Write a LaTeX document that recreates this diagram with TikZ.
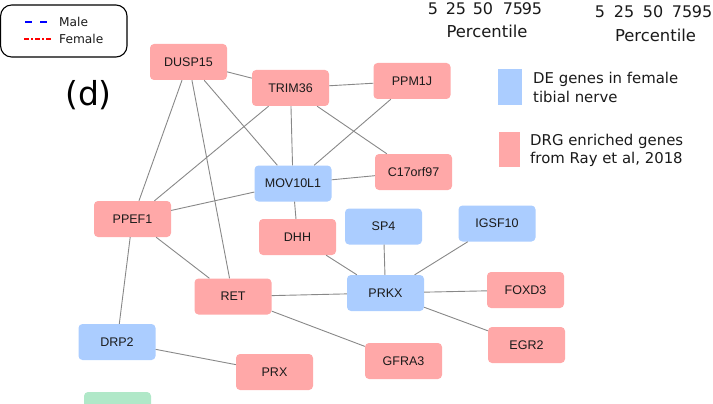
\documentclass[tikz,border=0pt]{standalone}
\usepackage{fontspec}
\setmainfont{DejaVu Sans}
\newfontfamily\genefont{Liberation Sans}
\definecolor{drgpink}{HTML}{FFA8A8}
\definecolor{deblue}{HTML}{ABCDFF}
\definecolor{othgreen}{HTML}{B0E8C8}
\definecolor{edgegray}{HTML}{888888}
\definecolor{inkgray}{HTML}{1A1A1A}
\tikzset{ % gene boxes
    gene/.style={rectangle, rounded corners=4pt, minimum width=77pt, minimum height=36pt,
        inner sep=0pt, text=inkgray, font=\genefont\fontsize{12.5}{14}\selectfont},
    drg/.style={gene, fill=drgpink},
    degene/.style={gene, fill=deblue},
    othergene/.style={gene, fill=othgreen, minimum width=67pt},
    link/.style={draw=edgegray, line width=0.9pt},
    keytext/.style={anchor=west, text=inkgray, inner sep=0pt},
}

\begin{document}
\begin{tikzpicture}[x=1pt, y=-1pt]
		\useasboundingbox (0,0) rectangle (713,404);
		\clip (0,0) rectangle (713,404);
		% axis remains at the top
		\foreach \p/\x in {5/433,25/456,50/483,75/513,95/532}{
			\node[text=inkgray, font=\fontsize{16}{18}\selectfont] (tka\p) at (\x,9) {\p};
		}
		\foreach \p/\x in {5/600,25/624,50/653,75/682,95/702}{
			\node[text=inkgray, font=\fontsize{16}{18}\selectfont] (tkb\p) at (\x,12) {\p};
		}
		\node[text=inkgray, font=\fontsize{16.4}{18}\selectfont] (pcta) at (487,31) {Percentile};
		\node[text=inkgray, font=\fontsize{16.4}{18}\selectfont] (pctb) at (655.5,35) {Percentile};
		% sex legend
		\draw[rounded corners=11pt, line width=1.1pt] (0.6,5) rectangle (127,57);
		\draw[blue, line width=2pt, dash pattern=on 7pt off 8pt] (25,22) -- (47,22);
		\draw[red, line width=2pt, dash pattern=on 5pt off 2pt on 2pt off 2pt] (24,39) -- (51,39);
		\node[keytext, font=\fontsize{12.2}{14}\selectfont] (male) at (59,21.5) {Male};
		\node[keytext, font=\fontsize{12.2}{14}\selectfont] (female) at (59,38.5) {Female};
		\node[text=black, font=\fontsize{33}{36}\selectfont] (panel) at (88.5,95) {(d)};
		% colour legend
		\fill[deblue] (498,69) rectangle (522,105);
		\fill[drgpink] (499,132) rectangle (520,167);
		\node[keytext, align=left, font=\fontsize{14.9}{19}\selectfont] (dekey) at (533,87.5) {DE genes in female\\tibial nerve};
		\node[keytext, align=left, font=\fontsize{14.9}{18}\selectfont] (drgkey) at (530,150) {DRG enriched genes\\from Ray et al, 2018};
		% network
		\node[drg] (dusp) at (188.5,62) {DUSP15};
		\node[drg] (trim) at (290.5,88) {TRIM36};
		\node[drg] (ppm) at (412,81) {PPM1J};
		\node[degene] (mov) at (293,183.5) {MOV10L1};
		\node[drg] (corf) at (413.5,172) {C17orf97};
		\node[drg] (ppef) at (132.5,219) {PPEF1};
		\node[drg] (dhh) at (297.5,237) {DHH};
		\node[degene] (sp) at (383.5,226.5) {SP4};
		\node[degene] (igsf) at (497,223.5) {IGSF10};
		\node[drg] (ret) at (233,296.5) {RET};
		\node[degene] (prkx) at (385.5,293) {PRKX};
		\node[drg] (foxd) at (525.5,290) {FOXD3};
		\node[drg] (egr) at (526.5,345) {EGR2};
		\node[drg] (gfra) at (403.5,361) {GFRA3};
		\node[degene] (drp) at (117,342) {DRP2};
		\node[drg] (prx) at (274.5,372) {PRX};
		\node[othergene] (grn) at (117.5,410) {};
		\foreach \a/\b in {dusp/trim,dusp/ppef,dusp/ret,dusp/mov,trim/ppm,trim/mov,trim/ppef,trim/corf,
			ppm/mov,mov/corf,mov/ppef,mov/dhh,ppef/ret,ppef/drp,dhh/prkx,sp/prkx,igsf/prkx,
			ret/prkx,ret/gfra,prkx/foxd,prkx/egr,drp/prx}{
			\draw[link] (\a) -- (\b);
		}
	\end{tikzpicture}
\end{document}
